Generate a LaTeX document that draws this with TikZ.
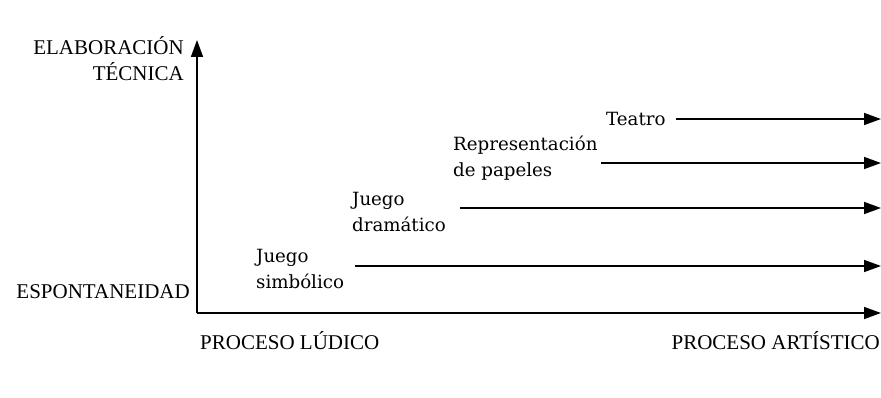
\documentclass[tikz,border=0pt]{standalone}
\usepackage{fontspec}
\setmainfont{Liberation Serif}
\newfontfamily\lowfont{DejaVu Serif}
\usetikzlibrary{arrows.meta}
\begin{document}
\begin{tikzpicture}[x=1pt,y=-1pt,
  arr/.style={line width=1.6pt,-{Triangle[length=17pt,width=12pt]}},
  caps/.style={inner sep=0pt,font=\fontsize{21}{26}\selectfont},
  lab/.style={inner sep=0pt,anchor=west,align=left,font=\lowfont\fontsize{18.2}{26}\selectfont}]
\useasboundingbox (0,0) rectangle (881,398);
% axes
\coordinate (O) at (197,313);
\coordinate (ytop) at (197,40);
\coordinate (xend) at (881,313);
\draw[arr] (O) -- (ytop);
\draw[arr] (O) -- (xend);
% axis labels
\node[caps,anchor=east,align=right] (elab) at (184,59) {ELABORACIÓN\\TÉCNICA};
\node[caps,anchor=east] (esp) at (190,292) {ESPONTANEIDAD};
\node[caps,anchor=west] (ludico) at (200,341) {PROCESO LÚDICO};
\node[caps,anchor=east] (artistico) at (880,341) {PROCESO ARTÍSTICO};
% stage labels
\node[lab] (simb) at (256,269) {Juego\\simbólico};
\node[lab] (dram) at (352,212) {Juego\\dramático};
\node[lab] (repr) at (453,158) {Representación\\de papeles};
\node[lab] (teatro) at (606,119) {Teatro};
% stage arrows
\coordinate (s1) at (355,266); \coordinate (s2) at (881,266);
\coordinate (d1) at (460,208); \coordinate (d2) at (881,208);
\coordinate (r1) at (601,163); \coordinate (r2) at (881,163);
\coordinate (t1) at (676,119); \coordinate (t2) at (881,119);
\draw[arr] (s1) -- (s2);
\draw[arr] (d1) -- (d2);
\draw[arr] (r1) -- (r2);
\draw[arr] (t1) -- (t2);
\end{tikzpicture}
\end{document}
